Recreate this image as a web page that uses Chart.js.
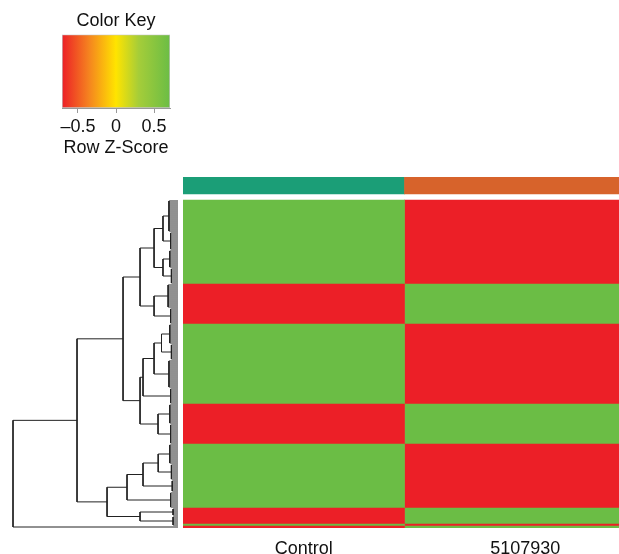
<!DOCTYPE html>
<html>
<head>
<meta charset="utf-8">
<script src="https://cdn.jsdelivr.net/npm/chart.js@4.4.1/dist/chart.umd.min.js"></script>
<style>
  html, body { margin: 0; padding: 0; background: #fff; }
  body { width: 619px; height: 554px; overflow: hidden; position: relative; }
  canvas { position: absolute; }
  #heat { left: 183px; top: 0; }
  #tree { left: 0; top: 200px; }
  #key { left: 0; top: 0; }
</style>
</head>
<body>
<canvas id="heat" width="443" height="554"></canvas>
<canvas id="tree" width="183" height="328"></canvas>
<canvas id="key" width="200" height="160"></canvas>
<script>
// samples and their side colours
const samples = ['Control', '5107930'];
const sampleColors = ['#1b9e77', '#d7632b'];

// row blocks in dendrogram order: number of rows, z-score of Control (5107930 is the opposite)
const blockRows = [42, 20, 40, 20, 32, 8, 1, 1];
const blockZ = [0.71, -0.71, 0.71, -0.71, 0.71, -0.71, 0.71, -0.71];

// colour key
const keyBreaks = [-0.71, -0.35, 0, 0.3, 0.71];
const keyColors = ['#ec1f27', '#f5851f', '#ffe400', '#a5cd39', '#6bbd45'];
const keyTicks = [-0.5, 0, 0.5];

// row dendrogram: leaf groups [first row, last row, join height]
const leafGroups = [
  [0, 15, 0.55], [16, 24, 0.45], [25, 33, 0.5], [34, 41, 0.4],
  [42, 53, 0.6], [54, 61, 0.45],
  [62, 71, 0.5], [72, 79, 0.4], [80, 93, 0.55], [94, 101, 0.45],
  [102, 111, 0.5], [112, 121, 0.45],
  [122, 131, 0.5], [132, 139, 0.4], [140, 145, 0.35], [146, 153, 0.45],
  [154, 157, 0.3], [158, 162, 0.3], [163, 163, 0]
];
// hclust style: negative = leaf group, positive = earlier merge (1-based)
const merges = [
  [-1, -2], [-3, -4], [1, 2], [-5, -6], [3, 4],
  [-7, -8], [6, -9], [7, -10], [-11, -12], [8, 9], [5, 10],
  [-13, -14], [12, -15], [13, -16], [-17, -18], [14, 15], [11, 16], [17, -19]
];
const mergeHeights = [0.91, 0.91, 1.45, 1.45, 2.3, 1.0, 1.45, 2.12, 1.21, 2.3, 3.33,
  1.2, 2.12, 3.09, 2.3, 4.3, 6.12, 10];

const FONT = '"Liberation Sans", Arial, sans-serif';
Chart.defaults.font.family = FONT;
Chart.defaults.color = '#111';

function hexRgb(h) {
  return [1, 3, 5].map(i => parseInt(h.slice(i, i + 2), 16));
}

function zColor(z) {
  const last = keyBreaks.length - 1;
  if (z <= keyBreaks[0]) return keyColors[0];
  if (z >= keyBreaks[last]) return keyColors[last];
  let i = 0;
  while (z > keyBreaks[i + 1]) i++;
  const t = (z - keyBreaks[i]) / (keyBreaks[i + 1] - keyBreaks[i]);
  const a = hexRgb(keyColors[i]), b = hexRgb(keyColors[i + 1]);
  const c = a.map((v, k) => Math.round(v + (b[k] - v) * t));
  return `rgb(${c[0]},${c[1]},${c[2]})`;
}

// ---- heatmap ----
const rowStart = [];
let totalRows = 0;
blockRows.forEach(n => { rowStart.push(totalRows); totalRows += n; });

const SIDE_TOP = -11.5, SIDE_BOTTOM = -3;

function cells(col) {
  return blockRows.map((n, i) => ({
    x: samples[col],
    y: [rowStart[i], rowStart[i] + n],
    z: col === 0 ? blockZ[i] : -blockZ[i]
  }));
}

const heatSets = samples.map((s, c) => ({
  label: s,
  data: cells(c),
  backgroundColor: ctx => ctx.raw ? zColor(ctx.raw.z) : '#fff'
}));
heatSets.unshift({
  label: 'side',
  data: samples.map(s => ({ x: s, y: [SIDE_TOP, SIDE_BOTTOM] })),
  backgroundColor: sampleColors
});
heatSets.forEach(d => {
  d.grouped = false;
  d.barPercentage = 1;
  d.categoryPercentage = 1;
  d.borderWidth = 0;
});

new Chart(document.getElementById('heat'), {
  type: 'bar',
  data: { labels: samples, datasets: heatSets },
  options: {
    responsive: false,
    animation: false,
    layout: { padding: { top: 177, left: 0, right: 0, bottom: 0 } },
    plugins: { legend: { display: false }, tooltip: { enabled: false } },
    scales: {
      x: {
        type: 'category',
        grid: { display: false, drawTicks: false },
        border: { display: false },
        afterFit: axis => { axis.height = 26; },
        ticks: { font: { size: 18 }, color: '#111', padding: 10, labelOffset: 10 }
      },
      y: { type: 'linear', reverse: true, min: SIDE_TOP, max: totalRows, display: false }
    }
  }
});

// ---- dendrogram ----
const groupPos = leafGroups.map(g => (g[0] + g[1]) / 2 + 0.5);
const treePts = [];
function seg(pts) {
  pts.forEach(p => treePts.push({ x: p[0], y: p[1] }));
  treePts.push({ x: null, y: null });
}
leafGroups.forEach(g => {
  if (g[2] === 0) return;
  for (let r = g[0]; r <= g[1]; r++) seg([[0, r + 0.5], [g[2], r + 0.5]]);
  seg([[g[2], g[0] + 0.5], [g[2], g[1] + 0.5]]);
});
const mergePos = [];
function node(id) {
  return id < 0
    ? { pos: groupPos[-id - 1], h: leafGroups[-id - 1][2] }
    : { pos: mergePos[id - 1], h: mergeHeights[id - 1] };
}
merges.forEach((m, k) => {
  const a = node(m[0]), b = node(m[1]), H = mergeHeights[k];
  seg([[a.h, a.pos], [H, a.pos], [H, b.pos], [b.h, b.pos]]);
  mergePos.push((a.pos + b.pos) / 2);
});

new Chart(document.getElementById('tree'), {
  type: 'line',
  data: {
    datasets: [{
      data: treePts,
      borderColor: '#222',
      borderWidth: 1,
      pointRadius: 0,
      spanGaps: false,
      tension: 0
    }]
  },
  options: {
    responsive: false,
    animation: false,
    layout: { padding: 0 },
    plugins: { legend: { display: false }, tooltip: { enabled: false } },
    scales: {
      x: { type: 'linear', reverse: true, min: -0.303, max: 10.788, display: false },
      y: { type: 'linear', reverse: true, min: 0, max: totalRows, display: false }
    }
  }
});

// ---- colour key ----
function keyGradient(ctx) {
  const chart = ctx.chart;
  if (!chart.chartArea) return keyColors[0];
  const xs = chart.scales.x;
  const lo = keyBreaks[0], hi = keyBreaks[keyBreaks.length - 1];
  const g = chart.ctx.createLinearGradient(xs.getPixelForValue(lo), 0, xs.getPixelForValue(hi), 0);
  keyBreaks.forEach((b, i) => g.addColorStop((b - lo) / (hi - lo), keyColors[i]));
  return g;
}

new Chart(document.getElementById('key'), {
  type: 'bar',
  data: {
    labels: ['key'],
    datasets: [{
      data: [[keyBreaks[0], keyBreaks[keyBreaks.length - 1]]],
      backgroundColor: keyGradient,
      borderColor: '#c4c4c4',
      borderWidth: 1,
      borderSkipped: false,
      barPercentage: 1,
      categoryPercentage: 1
    }]
  },
  options: {
    indexAxis: 'y',
    responsive: false,
    animation: false,
    layout: { padding: { left: 62, right: 30, top: 0, bottom: 1 } },
    plugins: {
      legend: { display: false },
      tooltip: { enabled: false },
      title: {
        display: true,
        text: 'Color Key',
        fullSize: false,
        color: '#111',
        font: { size: 18, weight: 'normal' },
        padding: { top: 10, bottom: 3 }
      }
    },
    scales: {
      x: {
        type: 'linear',
        min: keyBreaks[0],
        max: keyBreaks[keyBreaks.length - 1],
        afterBuildTicks: axis => { axis.ticks = keyTicks.map(v => ({ value: v })); },
        afterFit: axis => { axis.height = 51; },
        border: { color: '#999' },
        grid: { drawOnChartArea: false, tickLength: 5, color: '#999' },
        ticks: {
          font: { size: 18 },
          color: '#111',
          padding: 3,
          callback: v => v < 0 ? '\u2013' + Math.abs(v) : String(v)
        },
        title: { display: true, text: 'Row Z-Score', font: { size: 18 }, color: '#111', padding: 0 }
      },
      y: { display: false }
    }
  }
});
</script>
</body>
</html>
